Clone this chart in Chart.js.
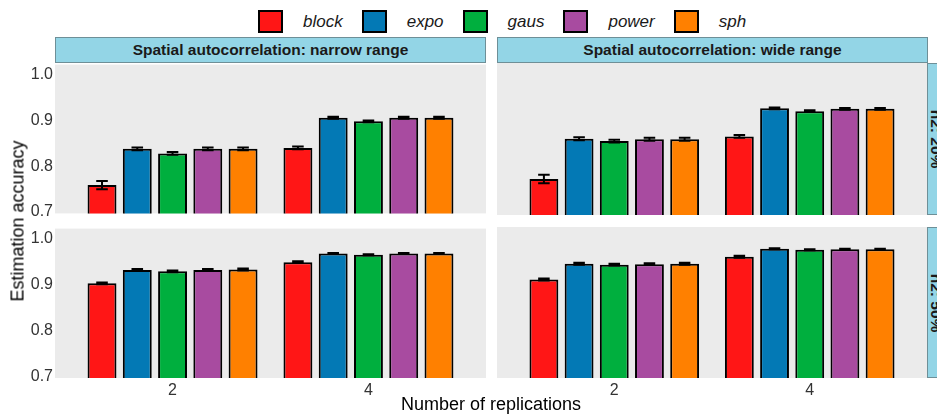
<!DOCTYPE html>
<html>
<head>
<meta charset="utf-8">
<script src="https://cdn.jsdelivr.net/npm/chart.js"></script>
<style>
    body {
        margin: 0;
        width: 937px;
        height: 416px;
        overflow: hidden;
        position: relative;
        background: #fff;
        font-family: 'Liberation Sans', Arial, sans-serif;
    }

    #legenda {
        position: absolute;
        left: 258px;
        top: 10px;
        height: 23px;
        display: flex;
        align-items: center;
    }

    .quad {
        width: 25px;
        height: 23px;
        box-sizing: border-box;
        border: 2px solid #000;
    }

    .nome {
        font-style: italic;
        font-size: 17px;
        margin-left: 20px;
        margin-right: 19px;
        color: #1a1a1a;
    }

    .strip {
        position: absolute;
        box-sizing: border-box;
        background: #93d5e6;
        border: 1px solid #6e8f97;
        font-weight: bold;
        font-size: 15.5px;
        color: #1a1a1a;
        display: flex;
        align-items: center;
        justify-content: center;
        overflow: hidden;
    }

    .strip.vert span {
        transform: rotate(90deg);
        white-space: nowrap;
        position: relative;
        left: -4px;
    }

    .painel {
        position: absolute;
    }

    .titulo {
        position: absolute;
        font-size: 18px;
        color: #000;
        white-space: nowrap;
    }
</style>
</head>
<body>

<div id="legenda"></div>

<div class="strip" id="stripEstreita" style="left:55px; top:37px; width:431px; height:26px;"></div>
<div class="strip" id="stripAmpla" style="left:497px; top:37px; width:431px; height:26px;"></div>
<div class="strip vert" id="strip20" style="left:927px; top:63px; width:26px; height:152px;"><span></span></div>
<div class="strip vert" id="strip50" style="left:927px; top:227px; width:26px; height:151px;"><span></span></div>

<canvas class="painel" id="chartSupEsq" width="486" height="172" style="left:0; top:53px;"></canvas>
<canvas class="painel" id="chartSupDir" width="430" height="172" style="left:497px; top:53px;"></canvas>
<canvas class="painel" id="chartInfEsq" width="486" height="191" style="left:0; top:217px;"></canvas>
<canvas class="painel" id="chartInfDir" width="430" height="191" style="left:497px; top:217px;"></canvas>

<div class="titulo" id="tituloY" style="left:18px; top:221px; transform: translate(-50%, -50%) rotate(-90deg);"></div>
<div class="titulo" id="tituloX" style="left:491px; top:404px; transform: translate(-50%, -50%);"></div>

<script>
var replicacoes = ['2', '4']
var modelos = ['block', 'expo', 'gaus', 'power', 'sph']
var cores = ['#ff1616', '#0379b5', '#00af3e', '#a84ba0', '#ff8000']
var marcasY = [0.7, 0.8, 0.9, 1.0]
var faixas = ['Spatial autocorrelation: narrow range', 'Spatial autocorrelation: wide range']
var herdabilidades = ['h2: 20%', 'h2: 50%']
var tituloEixoX = 'Number of replications'
var tituloEixoY = 'Estimation accuracy'

// acuracia media por modelo (ordem de modelos), para 2 e 4 replicacoes
var acc20Estreita2 = [0.759, 0.838, 0.828, 0.838, 0.838]
var acc20Estreita4 = [0.840, 0.906, 0.898, 0.906, 0.906]
var acc20Ampla2 = [0.774, 0.860, 0.855, 0.859, 0.859]
var acc20Ampla4 = [0.865, 0.925, 0.919, 0.924, 0.924]
var acc50Estreita2 = [0.903, 0.932, 0.929, 0.932, 0.933]
var acc50Estreita4 = [0.949, 0.968, 0.965, 0.968, 0.968]
var acc50Ampla2 = [0.909, 0.943, 0.941, 0.942, 0.943]
var acc50Ampla4 = [0.958, 0.975, 0.973, 0.974, 0.974]

// erro padrao
var ep20Estreita2 = [0.009, 0.003, 0.003, 0.003, 0.003]
var ep20Estreita4 = [0.003, 0.002, 0.002, 0.002, 0.002]
var ep20Ampla2 = [0.009, 0.003, 0.003, 0.003, 0.003]
var ep20Ampla4 = [0.003, 0.002, 0.002, 0.002, 0.002]
var ep50Estreita2 = [0.002, 0.002, 0.002, 0.002, 0.002]
var ep50Estreita4 = [0.002, 0.001, 0.001, 0.001, 0.001]
var ep50Ampla2 = [0.002, 0.002, 0.002, 0.002, 0.002]
var ep50Ampla4 = [0.002, 0.001, 0.001, 0.001, 0.001]

var legenda = document.getElementById('legenda')
modelos.forEach((modelo, i) => {
    let quad = document.createElement('div')
    quad.className = 'quad'
    quad.style.background = cores[i]
    let nome = document.createElement('span')
    nome.className = 'nome'
    nome.innerText = modelo
    legenda.appendChild(quad)
    legenda.appendChild(nome)
})

document.getElementById('stripEstreita').innerText = faixas[0]
document.getElementById('stripAmpla').innerText = faixas[1]
document.querySelector('#strip20 span').innerText = herdabilidades[0]
document.querySelector('#strip50 span').innerText = herdabilidades[1]
document.getElementById('tituloX').innerText = tituloEixoX
document.getElementById('tituloY').innerText = tituloEixoY

const fundoPainel = {
    id: 'fundoPainel',
    beforeDraw(chart) {
        const a = chart.chartArea
        chart.ctx.save()
        chart.ctx.fillStyle = '#ebebeb'
        chart.ctx.fillRect(a.left, a.top, a.right - a.left, a.bottom - a.top)
        chart.ctx.restore()
    }
}

const barrasErro = {
    id: 'barrasErro',
    afterDatasetsDraw(chart) {
        const ctx = chart.ctx
        const y = chart.scales.y
        ctx.save()
        ctx.strokeStyle = '#000'
        ctx.lineWidth = 2
        chart.data.datasets.forEach((ds, i) => {
            chart.getDatasetMeta(i).data.forEach((barra, j) => {
                let v = ds.data[j].y
                let e = ds.erro[j]
                let topo = y.getPixelForValue(v + e)
                let base = y.getPixelForValue(v - e)
                let meia = barra.width * 0.2
                ctx.beginPath()
                ctx.moveTo(barra.x, topo)
                ctx.lineTo(barra.x, base)
                ctx.moveTo(barra.x - meia, topo)
                ctx.lineTo(barra.x + meia, topo)
                ctx.moveTo(barra.x - meia, base)
                ctx.lineTo(barra.x + meia, base)
                ctx.stroke()
            })
        })
        ctx.restore()
    }
}

function montarGrafico(idCanvas, valores2, valores4, erros2, erros4, mostrarY, mostrarX) {
    let datasets = modelos.map((modelo, i) => ({
        label: modelo,
        data: [{ x: 1, y: valores2[i] }, { x: 2, y: valores4[i] }],
        erro: [erros2[i], erros4[i]],
        backgroundColor: cores[i],
        borderColor: '#000',
        borderWidth: 2,
        categoryPercentage: 0.9,
        barPercentage: 0.82
    }))

    return new Chart(document.getElementById(idCanvas), {
        type: 'bar',
        data: { datasets: datasets },
        plugins: [fundoPainel, barrasErro],
        options: {
            responsive: false,
            animation: false,
            layout: {
                padding: { top: 10, bottom: mostrarX ? 0 : 10, left: 0, right: 0 }
            },
            plugins: {
                legend: { display: false },
                tooltip: { enabled: false }
            },
            scales: {
                x: {
                    type: 'linear',
                    min: 0.4,
                    max: 2.6,
                    offset: false,
                    display: mostrarX,
                    afterBuildTicks: s => { s.ticks = [{ value: 1 }, { value: 2 }] },
                    afterFit: s => { s.height = mostrarX ? 30 : 0 },
                    grid: { display: false, drawTicks: false, offset: false },
                    border: { display: false },
                    ticks: {
                        padding: 3,
                        color: '#333',
                        font: { family: 'Liberation Sans', size: 16 },
                        callback: v => replicacoes[v - 1]
                    }
                },
                y: {
                    min: 0.697,
                    max: 1.022,
                    display: mostrarY,
                    afterBuildTicks: s => { s.ticks = marcasY.map(v => ({ value: v })) },
                    afterFit: s => { s.width = mostrarY ? 55 : 0 },
                    grid: { display: false, drawTicks: false },
                    border: { display: false },
                    ticks: {
                        padding: 2,
                        color: '#333',
                        font: { family: 'Liberation Sans', size: 16 },
                        callback: v => v.toFixed(1)
                    }
                }
            }
        }
    })
}

montarGrafico('chartSupEsq', acc20Estreita2, acc20Estreita4, ep20Estreita2, ep20Estreita4, true, false)
montarGrafico('chartSupDir', acc20Ampla2, acc20Ampla4, ep20Ampla2, ep20Ampla4, false, false)
montarGrafico('chartInfEsq', acc50Estreita2, acc50Estreita4, ep50Estreita2, ep50Estreita4, true, true)
montarGrafico('chartInfDir', acc50Ampla2, acc50Ampla4, ep50Ampla2, ep50Ampla4, false, true)
</script>
</body>
</html>
